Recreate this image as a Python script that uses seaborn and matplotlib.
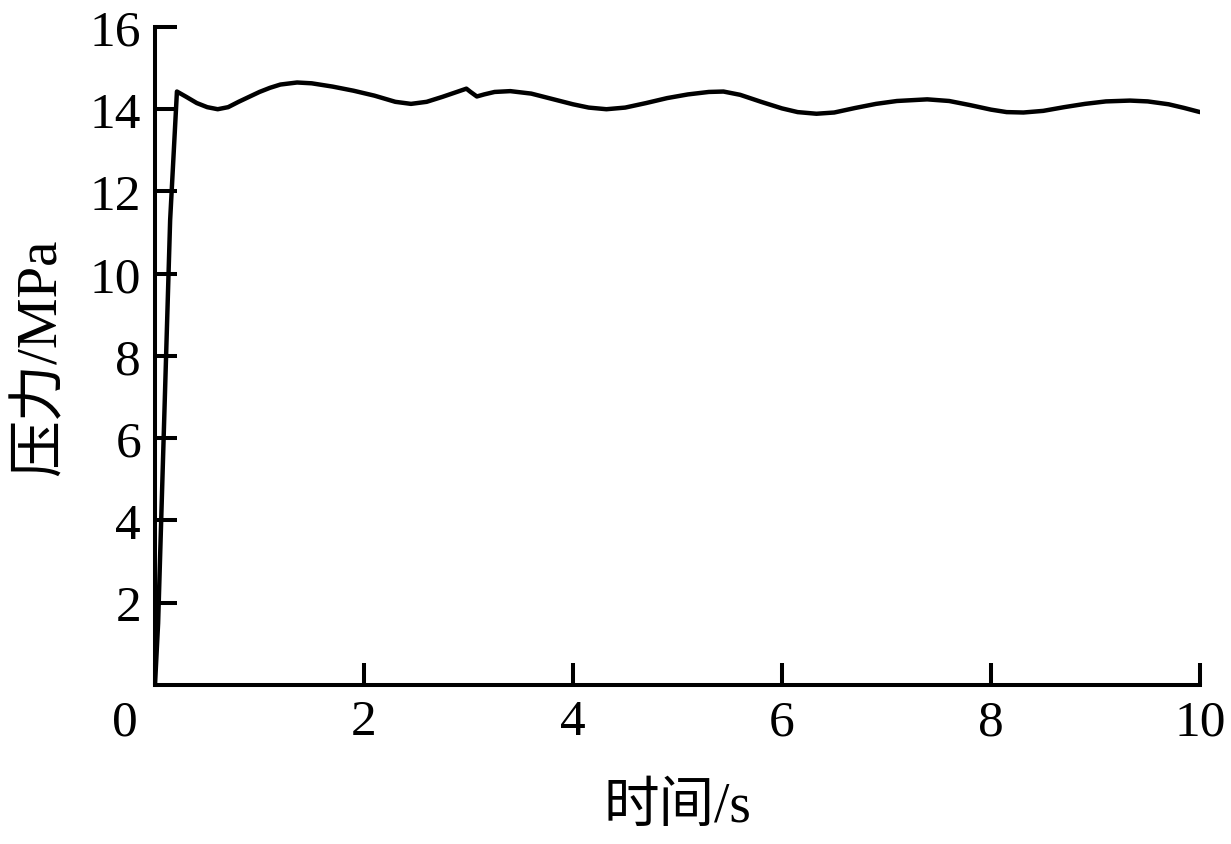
import numpy as np
import pandas as pd
import matplotlib
matplotlib.use("Agg")
import matplotlib.pyplot as plt
import matplotlib.transforms as mtransforms
import seaborn as sns

# values
time_s = [0.0, 0.03, 0.145, 0.21, 0.3, 0.4, 0.5, 0.6, 0.7, 0.8, 0.9, 1.0,
          1.1, 1.2, 1.36, 1.5, 1.7, 1.9, 2.1, 2.3, 2.45, 2.6, 2.75, 2.9,
          2.98, 3.02, 3.08, 3.15, 3.25, 3.4, 3.6, 3.8, 4.0, 4.15, 4.32,
          4.5, 4.7, 4.9, 5.1, 5.3, 5.44, 5.6, 5.8, 6.0, 6.15, 6.33, 6.5,
          6.7, 6.9, 7.1, 7.39, 7.6, 7.8, 8.0, 8.15, 8.31, 8.5, 8.7, 8.9,
          9.1, 9.33, 9.5, 9.7, 9.85, 10.0]
pressure_mpa = [0.0, 1.5, 11.3, 14.43, 14.3, 14.15, 14.05, 14.0, 14.05,
                14.18, 14.3, 14.42, 14.52, 14.6, 14.65, 14.63, 14.55, 14.45,
                14.33, 14.18, 14.13, 14.18, 14.3, 14.43, 14.5, 14.42, 14.31,
                14.36, 14.42, 14.44, 14.38, 14.25, 14.12, 14.04, 14.0, 14.04,
                14.15, 14.27, 14.36, 14.42, 14.43, 14.35, 14.18, 14.02, 13.93,
                13.89, 13.92, 14.03, 14.13, 14.2, 14.24, 14.2, 14.1, 13.99,
                13.93, 13.92, 13.96, 14.05, 14.13, 14.19, 14.21, 14.19, 14.12,
                14.03, 13.93]
x_ticks = [0, 2, 4, 6, 8, 10]
y_ticks = [2, 4, 6, 8, 10, 12, 14, 16]

sns.set_theme(style="ticks")
plt.rcParams['font.family'] = ['Liberation Serif', 'Noto Sans CJK SC']
plt.rcParams['axes.linewidth'] = 2.9

df = pd.DataFrame({"time": time_s, "pressure": pressure_mpa})

fig = plt.figure(figsize=(12.31, 8.45), dpi=100)
ax = fig.add_axes([0.1259, 0.1882, 0.9748 - 0.1259, 0.9669 - 0.1882])
sns.lineplot(data=df, x="time", y="pressure", ax=ax, color="black",
             linewidth=3.2, sort=False)

ax.set_xlim(0, 10)
ax.set_ylim(0, 16)
ax.set_xticks(x_ticks)
ax.set_yticks(y_ticks)
ax.tick_params(direction="in", length=16, width=2.9, labelsize=37,
               colors="black", pad=10)
for s in ["top", "right"]:
    ax.spines[s].set_visible(False)
for s in ["left", "bottom"]:
    ax.spines[s].set_color("black")

# the "0" under the origin sits a little left of the axis corner
zero_lbl = ax.get_xticklabels()[0]
zero_lbl.set_transform(zero_lbl.get_transform() +
                       mtransforms.ScaledTranslation(-0.30, 0, fig.dpi_scale_trans))

ax.set_xlabel("时间/s", fontsize=40, labelpad=26, color="black")
ax.set_ylabel("压力/MPa", fontsize=41, labelpad=16, color="black")

fig.savefig("out.png", dpi=100, facecolor="white")
